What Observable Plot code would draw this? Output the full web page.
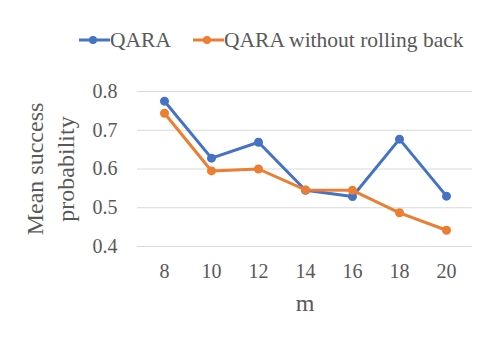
<!DOCTYPE html>
<html>
<head>
<meta charset="utf-8">
<script src="https://cdn.jsdelivr.net/npm/d3@7"></script>
<script src="https://cdn.jsdelivr.net/npm/@observablehq/plot@0.6"></script>
<style>
  html, body { margin: 0; padding: 0; background: #fff; }
  #legend { height: 60px; position: relative; font-family: "Liberation Serif", "Times New Roman", serif; font-size: 21.5px; color: #595959; }
  .item { position: absolute; top: 28px; display: flex; align-items: center; height: 24px; }
  .item svg { display: block; }
</style>
</head>
<body>
<div id="legend"></div>
<div id="chart"></div>
<script>
const ms = [8, 10, 12, 14, 16, 18, 20];
const qara = [0.775, 0.628, 0.669, 0.545, 0.529, 0.677, 0.530];
const noRollback = [0.744, 0.595, 0.600, 0.546, 0.545, 0.487, 0.442];
const yTicks = [0.4, 0.5, 0.6, 0.7, 0.8];
const seriesNames = ["QARA", "QARA without rolling back"];
const colors = ["#4472C4", "#ED7D31"];

const data = [];
ms.forEach((m, i) => {
  data.push({m, v: qara[i], s: seriesNames[0]});
  data.push({m, v: noRollback[i], s: seriesNames[1]});
});

const serif = "'Liberation Serif', 'Times New Roman', serif";

// Legend
const legend = document.getElementById("legend");
const lefts = [79, 193];
seriesNames.forEach((name, i) => {
  const it = document.createElement("div");
  it.className = "item";
  it.style.left = lefts[i] + "px";
  it.innerHTML = `<svg width="31" height="12"><line x1="0" x2="31" y1="6" y2="6" stroke="${colors[i]}" stroke-width="3"/><circle cx="14" cy="6" r="4" fill="${colors[i]}"/></svg><span>${name}</span>`;
  legend.appendChild(it);
});

const chart = Plot.plot({
  width: 498,
  height: 285,
  marginLeft: 137,
  marginRight: 26,
  marginTop: 31,
  marginBottom: 99,
  style: { fontFamily: serif, color: "#595959", background: "transparent" },
  x: { type: "point", domain: ms, padding: 0.5 },
  y: { domain: [0.4, 0.8] },
  color: { domain: seriesNames, range: colors },
  marks: [
    Plot.gridY(yTicks, { stroke: "#d9d9d9", strokeOpacity: 1, strokeWidth: 1 }),
    Plot.axisY(yTicks, { tickSize: 0, tickPadding: 20, fontSize: 20, fontFamily: serif, label: null, tickFormat: d => d.toFixed(1), fill: "#595959" }),
    Plot.axisX(ms, { tickSize: 0, tickPadding: 17, fontSize: 20, fontFamily: serif, label: null, fill: "#595959" }),
    Plot.line(data, { x: "m", y: "v", z: "s", stroke: "s", strokeWidth: 3 }),
    Plot.dot(data, { x: "m", y: "v", fill: "s", r: 4.5, stroke: null }),
    Plot.text(["Mean success\nprobability"], { text: d => d, frameAnchor: "left", rotate: -90, dx: -89, fontSize: 24, fontFamily: serif, lineHeight: 1.3, textAnchor: "middle", lineAnchor: "middle", fill: "#595959" }),
    Plot.text(["m"], { text: d => d, frameAnchor: "bottom", dy: 57, fontSize: 24, fontFamily: serif, lineAnchor: "middle", fill: "#595959" })
  ]
});
document.getElementById("chart").appendChild(chart);
</script>
</body>
</html>
